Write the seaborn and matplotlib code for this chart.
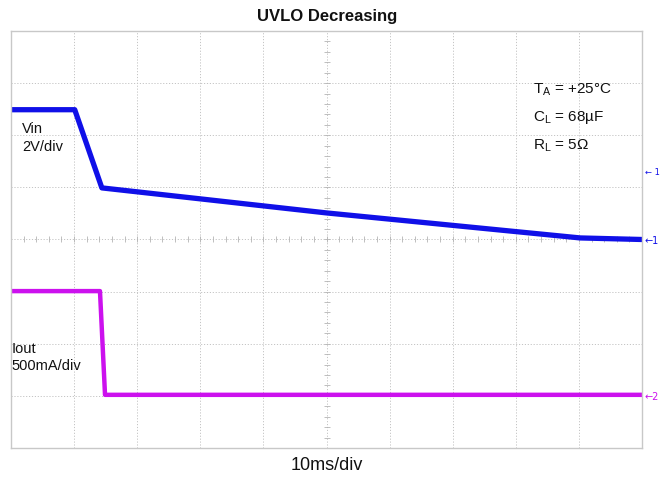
import numpy as np
import pandas as pd
import matplotlib
matplotlib.use("Agg")
import matplotlib.pyplot as plt
import seaborn as sns

sns.set_theme(style="white")
plt.rcParams["font.family"] = ["Liberation Sans", "DejaVu Sans"]
plt.rcParams["mathtext.fontset"] = "custom"
plt.rcParams["mathtext.rm"] = "Liberation Sans"

# time in ms (10 ms/div), amplitude in screen divisions (0..8)
vin_t = [0, 10.1, 14.4, 50, 90.2, 100]
vin_div = [6.49, 6.49, 4.99, 4.51, 4.03, 4.00]
iout_t = [0, 14.1, 14.9, 100]
iout_div = [3.01, 3.01, 1.02, 1.02]

vin = pd.DataFrame({"t": vin_t, "y": vin_div})
iout = pd.DataFrame({"t": iout_t, "y": iout_div})

fig = plt.figure(figsize=(6.69, 4.79), dpi=100)
ax = fig.add_axes([11 / 669, 31 / 479, 631 / 669, 417 / 479])

# scope graticule
for x in np.arange(10, 100, 10):
    ax.axvline(x, color="#c4c4c4", lw=0.7, ls=(0, (1.2, 1.8)), zorder=0)
for y in np.arange(1, 8, 1):
    ax.axhline(y, color="#c4c4c4", lw=0.7, ls=(0, (1.2, 1.8)), zorder=0)
ax.plot(np.arange(0, 100.1, 2), np.full(51, 4.0), ls="none", marker="|",
        ms=4, mew=0.6, color="#b4b4b4", zorder=0)
ax.plot(np.full(41, 50.0), np.arange(0, 8.01, 0.2), ls="none", marker="_",
        ms=4, mew=0.6, color="#b4b4b4", zorder=0)

sns.lineplot(data=vin, x="t", y="y", ax=ax, color="#1010e8", lw=3.8,
             estimator=None, sort=False)
sns.lineplot(data=iout, x="t", y="y", ax=ax, color="#cc11ee", lw=3.2,
             estimator=None, sort=False)

ax.set_xlim(0, 100)
ax.set_ylim(0, 8)
ax.set_xticks([])
ax.set_yticks([])
ax.set_xlabel("")
ax.set_ylabel("")
for s in ax.spines.values():
    s.set_color("#c8c8c8")
    s.set_linewidth(1.0)

ax.text(1.75, 6.25, "Vin\n2V/div", fontsize=10.5, va="top", ha="left",
        linespacing=1.3, color="#111111")
ax.text(0.15, 2.04, "Iout\n500mA/div", fontsize=10.5, va="top", ha="left",
        linespacing=1.3, color="#111111")

ax.text(82.7, 6.79, r"$\mathregular{T_A}$ = +25°C", fontsize=11, va="baseline", color="#111111")
ax.text(82.7, 6.27, r"$\mathregular{C_L}$ = 68µF", fontsize=11, va="baseline", color="#111111")
ax.text(82.7, 5.73, r"$\mathregular{R_L}$ = 5Ω", fontsize=11, va="baseline", color="#111111")

# channel markers on the right edge
ax.text(100.4, 5.28, "← 1", fontsize=6, color="#1010e8", va="center",
        ha="left", clip_on=False, family=["DejaVu Sans"])
ax.text(100.4, 3.98, "←1", fontsize=7, color="#1010e8", va="center",
        ha="left", clip_on=False, family=["DejaVu Sans"])
ax.text(100.4, 0.98, "←2", fontsize=7, color="#cc11ee", va="center",
        ha="left", clip_on=False, family=["DejaVu Sans"])

fig.text(327 / 669, 1 - 16 / 479, "UVLO Decreasing", fontsize=12,
         fontweight="bold", ha="center", va="center", color="#111111")
fig.text(327 / 669, 1 - 466 / 479, "10ms/div", fontsize=13, ha="center",
         va="center", color="#111111")

fig.savefig("out.png", dpi=100)
